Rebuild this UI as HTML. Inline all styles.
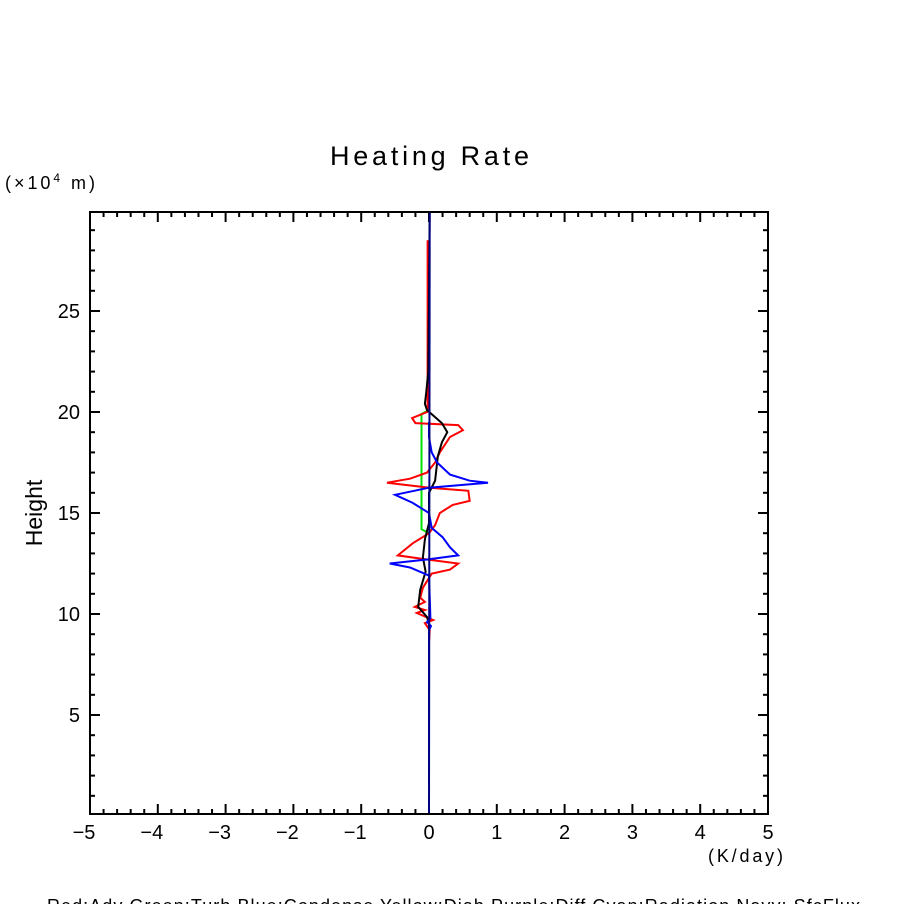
<!DOCTYPE html>
<html><head><meta charset="utf-8"><style>
html,body{margin:0;padding:0;background:#fff;width:904px;height:904px;overflow:hidden}
svg text{font-family:"Liberation Sans",sans-serif;fill:#000}
</style></head><body>
<svg id="chart" width="904" height="904" viewBox="0 0 904 904" xmlns="http://www.w3.org/2000/svg">
<rect width="904" height="904" fill="#fff"/>
<text x="330" y="165" font-size="27" textLength="199" lengthAdjust="spacing">Heating Rate</text>
<text x="5" y="189" font-size="18" textLength="90" lengthAdjust="spacing">(×10<tspan font-size="12" dy="-7">4</tspan><tspan dy="7"> m)</tspan></text>
<text transform="translate(42,513) rotate(-90)" font-size="23" text-anchor="middle">Height</text>
<text x="708" y="862" font-size="18" textLength="75" lengthAdjust="spacing">(K/day)</text>
<text x="47" y="912" font-size="18" textLength="813" lengthAdjust="spacing">Red:Adv  Green:Turb  Blue:Condense  Yellow:Diab  Purple:Diff  Cyan:Radiation  Navy: SfcFlux</text>
<g id="axes"></g>
<g id="series"></g>
<rect x="90" y="212" width="678" height="602" fill="none" stroke="#000" stroke-width="2"/>
</svg>
<script>
const xTicks = [-5,-4,-3,-2,-1,0,1,2,3,4,5];
const yTicks = [5,10,15,20,25];
const redH = [28.5,20.2,20.0,19.7,19.45,19.35,19.1,18.76,18.0,17.5,17.0,16.7,16.5,16.25,16.1,15.6,15.4,15.0,14.4,14.0,13.5,12.9,12.7,12.5,12.2,12.0,11.3,10.8,10.6,10.35,10.2,10.05,9.7,9.55,9.2,8.6,6.2];
const redV = [-0.02,-0.02,-0.03,-0.25,-0.2,0.43,0.5,0.31,0.16,0.09,-0.03,-0.28,-0.62,0.01,0.58,0.6,0.35,0.16,0.09,0,-0.24,-0.46,-0.03,0.43,0.31,0.04,-0.09,-0.13,-0.06,-0.21,-0.06,-0.18,0.06,-0.06,0.01,0,0];
const greenH = [20.1,19.9,14.2,14.0];
const greenV = [0,-0.11,-0.11,0];
const blueH = [19.5,18.76,18.0,17.5,16.9,16.6,16.5,16.25,15.9,15.5,15.0,14.26,13.8,13.3,12.9,12.7,12.5,12.3,11.9,9.8,9.6,9.4,9.2,1.5];
const blueV = [0,0,0.04,0.12,0.31,0.6,0.87,0,-0.5,-0.24,0,0.04,0.2,0.31,0.43,-0.03,-0.58,-0.28,0,0.02,-0.03,0.03,0,0];
const blackH = [29.9,22,21,20.4,20.1,19.45,19.0,18.5,17.8,16.6,16.0,14.5,13.7,12.8,12.1,11.2,10.35,9.85,9.5,1.5];
const blackV = [0.01,-0.01,-0.04,-0.06,-0.03,0.19,0.27,0.19,0.13,0.09,0,0,-0.06,-0.09,-0.05,-0.13,-0.16,-0.03,0,0];
const navyH = [29.9,0.1];
const navyV = [0.01,0];

const X0=90,X1=768,Y0=212,Y1=814,XMIN=-5,XMAX=5,YMIN=0.1,YMAX=29.9;
const sx=v=>X0+(v-XMIN)/(XMAX-XMIN)*(X1-X0);
const sy=v=>Y1-(v-YMIN)/(YMAX-YMIN)*(Y1-Y0);
const NS="http://www.w3.org/2000/svg";
const axes=document.getElementById('axes');
function line(g,x1,y1,x2,y2,name){
  const l=document.createElementNS(NS,'line');
  l.setAttribute('x1',x1);l.setAttribute('y1',y1);l.setAttribute('x2',x2);l.setAttribute('y2',y2);
  l.setAttribute('stroke','#000');l.setAttribute('stroke-width','2');
  
  
  g.appendChild(l);
}
for(let v=-5;v<=5.001;v+=0.2){
  const major=Math.abs(v-Math.round(v))<1e-6, len=major?10:5, x=sx(v);
  line(axes,x,Y1,x,Y1-len,'x-tick');
  line(axes,x,Y0,x,Y0+len,'x-tick-top');
}
for(let v=1;v<=29;v++){
  const major=v%5===0, len=major?10:5, y=sy(v);
  line(axes,X0,y,X0+len,y,'y-tick');
  line(axes,X1,y,X1-len,y,'y-tick-right');
}
xTicks.forEach(v=>{
  const t=document.createElementNS(NS,'text');
  t.setAttribute('x',sx(v)-(v<0?6:0));t.setAttribute('y',839);
  t.setAttribute('font-size','20');t.setAttribute('text-anchor','middle');
  t.textContent=(v<0?'\u2212':'')+Math.abs(v);
  
  
  axes.appendChild(t);
});
yTicks.forEach(v=>{
  const t=document.createElementNS(NS,'text');
  t.setAttribute('x',80);t.setAttribute('y',sy(v)+7);
  t.setAttribute('font-size','20');t.setAttribute('text-anchor','end');
  t.textContent=v;
  
  
  axes.appendChild(t);
});
const series=document.getElementById('series');
function drawSeries(H,V,color,name){
  const p=document.createElementNS(NS,'polyline');
  p.setAttribute('points',H.map((h,i)=>sx(V[i]).toFixed(1)+','+sy(h).toFixed(1)).join(' '));
  p.setAttribute('fill','none');p.setAttribute('stroke',color);p.setAttribute('stroke-width','2');
  
  
  series.appendChild(p);
}
drawSeries(greenH,greenV,'#00e000','turb-line');
drawSeries(redH,redV,'#ff0000','adv-line');
drawSeries(blackH,blackV,'#000000','total-line');
drawSeries(blueH,blueV,'#0000ff','condense-line');
drawSeries(navyH,navyV,'#000080','sfcflux-line');
</script>
</body></html>
